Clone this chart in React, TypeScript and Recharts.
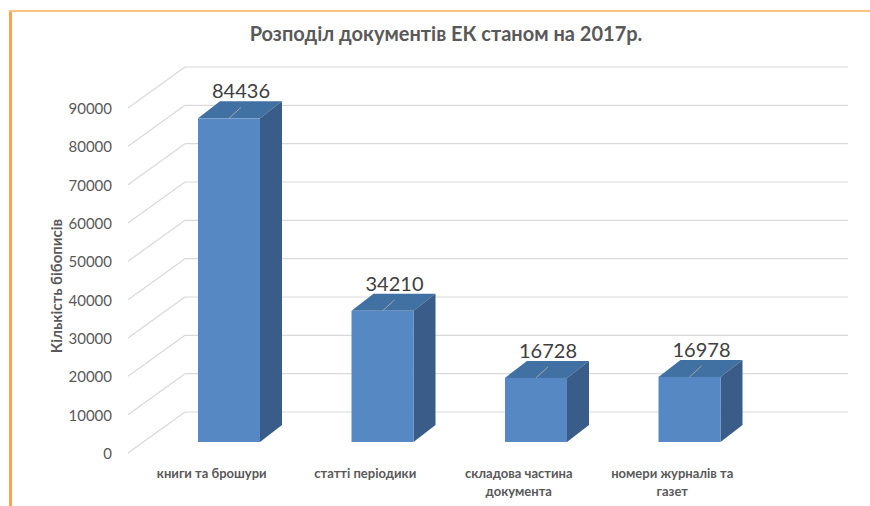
import { BarChart, Bar, XAxis, YAxis, CartesianGrid, LabelList } from "recharts";

// categories (line breaks follow the wrapping in the original chart)
const categories = [
  "книги та брошури",
  "статті періодики",
  "складова частина\nдокумента",
  "номери журналів та\nгазет",
];
const records = [84436, 34210, 16728, 16978];
const yTicks = [0, 10000, 20000, 30000, 40000, 50000, 60000, 70000, 80000, 90000];

const data = categories.map((name, i) => ({ name, value: records[i] }));

const FONT = "Lato, 'Open Sans', sans-serif";
const DX = 22; // depth offset of the 3D box
const DY = -17;

// 3D column: top, side and front face
const Box3D = (props: any) => {
  const { x, y, width, height } = props;
  const r = x + width;
  const b = y + height;
  return (
    <g>
      <polygon
        points={`${x},${y} ${x + DX},${y + DY} ${r + DX},${y + DY} ${r},${y}`}
        fill="#4170A3"
      />
      <polygon
        points={`${r},${y} ${r + DX},${y + DY} ${r + DX},${b + DY} ${r},${b}`}
        fill="#395D88"
      />
      <rect x={x} y={y} width={width} height={height} fill="#5689C3" />
    </g>
  );
};

// gridline: diagonal on the side wall, then straight along the back wall
const GridLine = (props: any) => {
  const { x1, x2, y1, index } = props;
  const backX = x1 + 33;
  return (
    <g key={`grid-${index}`}>
      <line x1={x1 - 24} y1={y1 + 11} x2={backX} y2={y1 - 30} stroke="#D9D9D9" strokeWidth={1.2} />
      <line x1={backX} y1={y1 - 30} x2={x2 + 82} y2={y1 - 30} stroke="#D9D9D9" strokeWidth={1.2} />
    </g>
  );
};

const YTick = ({ y, payload }: any) => (
  <text x={112} y={y + 11} textAnchor="end" dominantBaseline="central" fontFamily={FONT} fontSize={15} fill="#595959">
    {payload.value}
  </text>
);

const XTick = ({ x, y, payload }: any) => {
  const lines = String(payload.value).split("\n");
  return (
    <text x={x - 17} y={y + 28} textAnchor="middle" fontFamily={FONT} fontSize={13} fontWeight="bold" fill="#595959">
      {lines.map((l, i) => (
        <tspan key={i} x={x - 17} dy={i === 0 ? 0 : 18}>
          {l}
        </tspan>
      ))}
    </text>
  );
};

const ValueLabel = (props: any) => {
  const { x, y, width, value } = props;
  const cx = x + width / 2;
  return (
    <g>
      <line x1={cx} y1={y} x2={cx + 12} y2={y - 11} stroke="#A6A6A6" strokeWidth={1} />
      <text x={cx + 12} y={y - 20} textAnchor="middle" fontFamily={FONT} fontSize={20} fill="#404040">
        {value}
      </text>
    </g>
  );
};

export default function App() {
  return (
    <div style={{ position: "absolute", left: 0, top: 0, width: 870, height: 506, background: "#fff" }}>
      {/* orange frame edges */}
      <div style={{ position: "absolute", left: 9, top: 10, width: 3, height: 496, background: "#F9A24F" }} />
      <div style={{ position: "absolute", left: 9, top: 10, width: 861, height: 2, background: "#FBC17F" }} />
      <div
        style={{
          position: "absolute",
          left: 0,
          top: 21,
          width: 870,
          textAlign: "center",
          fontFamily: FONT,
          fontWeight: "bold",
          fontSize: 20,
          color: "#595959",
          paddingLeft: 22,
          boxSizing: "border-box",
        }}
      >
        Розподіл документів ЕК станом на 2017р.
      </div>
      <div
        style={{
          position: "absolute",
          left: 56,
          top: 286,
          transform: "translate(-50%, -50%) rotate(-90deg)",
          whiteSpace: "nowrap",
          fontFamily: FONT,
          fontWeight: "bold",
          fontSize: 15,
          color: "#595959",
        }}
      >
        Кількість бібописів
      </div>
      <div style={{ position: "absolute", left: 0, top: 0 }}>
        <BarChart width={870} height={506} data={data} margin={{ top: 97, right: 104, bottom: 24, left: 92 }} barSize={62}>
          <CartesianGrid vertical={false} horizontal={GridLine} />
          <XAxis dataKey="name" axisLine={false} tickLine={false} height={40} interval={0} tick={XTick} />
          <YAxis domain={[0, 90000]} ticks={yTicks} axisLine={false} tickLine={false} width={60} tick={YTick} />
          <Bar dataKey="value" shape={Box3D} isAnimationActive={false}>
            <LabelList dataKey="value" content={ValueLabel} />
          </Bar>
        </BarChart>
      </div>
    </div>
  );
}
